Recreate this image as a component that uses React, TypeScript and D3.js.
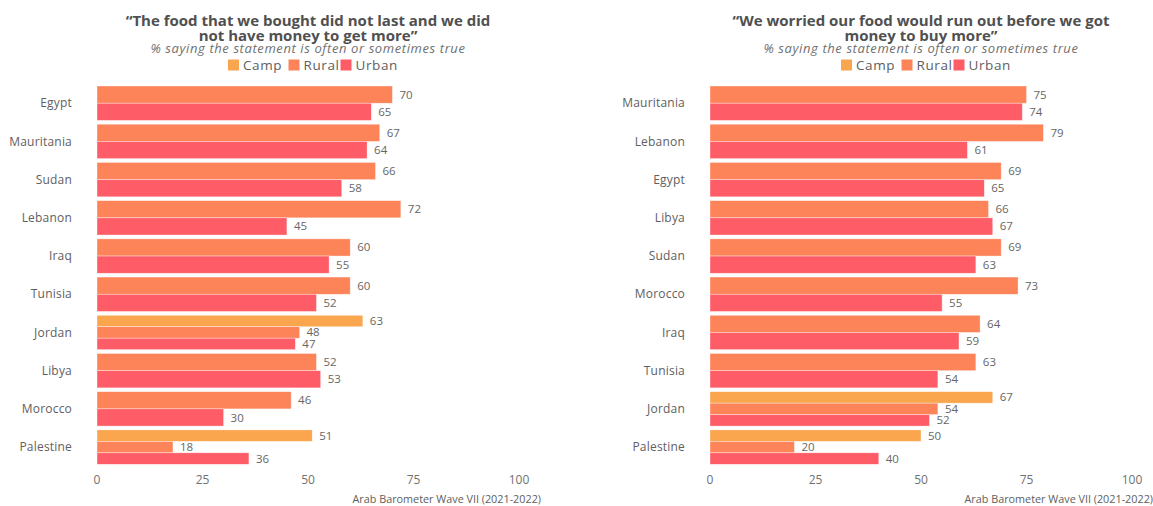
import React from "react";
import * as d3 from "d3";

const seriesKeys = ["Camp", "Rural", "Urban"];
const seriesColors = ["#FAA64F", "#FD8358", "#FE5C66"];

const leftCountries = ["Egypt", "Mauritania", "Sudan", "Lebanon", "Iraq", "Tunisia", "Jordan", "Libya", "Morocco", "Palestine"];
const leftCamp = [null, null, null, null, null, null, 63, null, null, 51];
const leftRural = [70, 67, 66, 72, 60, 60, 48, 52, 46, 18];
const leftUrban = [65, 64, 58, 45, 55, 52, 47, 53, 30, 36];

const rightCountries = ["Mauritania", "Lebanon", "Egypt", "Libya", "Sudan", "Morocco", "Iraq", "Tunisia", "Jordan", "Palestine"];
const rightCamp = [null, null, null, null, null, null, null, null, 67, 50];
const rightRural = [75, 79, 69, 66, 69, 73, 64, 63, 54, 20];
const rightUrban = [74, 61, 65, 67, 63, 55, 59, 54, 52, 40];

const xTicks = [0, 25, 50, 75, 100];

const leftTitle = ["\u201CThe food that we bought did not last and we did", "not have money to get more\u201D"];
const rightTitle = ["\u201CWe worried our food would run out before we got", "money to buy more\u201D"];
const subtitle = "% saying the statement is often or sometimes true";
const caption = "Arab Barometer Wave VII (2021-2022)";

const FONT = "'Open Sans', sans-serif";

type PanelProps = {
  x0: number;
  x1: number;
  countries: string[];
  camp: (number | null)[];
  rural: (number | null)[];
  urban: (number | null)[];
  title: string[];
  captionRight: number;
};

function Panel({ x0, x1, countries, camp, rural, urban, title, captionRight }: PanelProps) {
  const x = d3.scaleLinear().domain([0, 100]).range([x0, x1]);
  const y = d3.scaleBand<string>().domain(countries).range([84.1, 466.2]).paddingInner(0.1).paddingOuter(0.05);
  const cx = (x0 + x1) / 2;
  const series = [camp, rural, urban];

  const legendOffsets = [-80, -19.5, 32.5];

  return (
    <g>
      <text x={cx} y={26} textAnchor="middle" fontFamily={FONT} fontWeight={700} fontSize={15} fill="#505050">{title[0]}</text>
      <text x={cx} y={41} textAnchor="middle" fontFamily={FONT} fontWeight={700} fontSize={15} fill="#505050">{title[1]}</text>
      <text x={cx} y={53} textAnchor="middle" fontFamily={FONT} fontStyle="italic" fontSize={13} letterSpacing={0.6} fill="#707070">{subtitle}</text>
      {seriesKeys.map((k, i) => {
        const gx = cx + legendOffsets[i];
        return (
          <g key={k}>
            <rect x={gx} y={59.5} width={11} height={11} fill={seriesColors[i]} />
            <text x={gx + 15} y={69.5} fontFamily={FONT} fontSize={13.5} letterSpacing={0.6} fill="#606060">{k}</text>
          </g>
        );
      })}

      {countries.map((c, i) => {
        const present = series.map((s, si) => ({ v: s[i], si })).filter((d) => d.v !== null) as { v: number; si: number }[];
        const sub = d3.scaleBand<number>().domain(present.map((d) => d.si)).range([y(c)!, y(c)! + y.bandwidth()]);
        return (
          <g key={c}>
            <text x={x0 - 25} y={y(c)! + y.bandwidth() / 2} dy="0.35em" textAnchor="end" fontFamily={FONT} fontSize={12} letterSpacing={0.2} fill="#606060">{c}</text>
            {present.map((d) => (
              <g key={d.si}>
                <rect x={x(0)} y={sub(d.si)!} width={x(d.v) - x(0)} height={sub.bandwidth()} fill={seriesColors[d.si]} stroke="#fff" strokeOpacity={0.6} strokeWidth={0.6} />
                <text x={x(d.v) + 7} y={sub(d.si)! + sub.bandwidth() / 2} dy="0.35em" fontFamily={FONT} fontSize={11.5} fill="#666">{d.v}</text>
              </g>
            ))}
          </g>
        );
      })}

      {xTicks.map((t) => (
        <text key={t} x={x(t)} y={480} dy="0.35em" textAnchor="middle" fontFamily={FONT} fontSize={12} fill="#707070">{t}</text>
      ))}
      <text x={captionRight} y={503} textAnchor="end" fontFamily={FONT} fontSize={10.8} fill="#606060">{caption}</text>
    </g>
  );
}

export default function App() {
  return (
    <svg width={1153} height={506} style={{ position: "absolute", left: 0, top: 0, background: "#fff" }}>
      <rect width={1153} height={506} fill="#fff" />
      <Panel x0={97} x1={519} countries={leftCountries} camp={leftCamp} rural={leftRural} urban={leftUrban} title={leftTitle} captionRight={541} />
      <Panel x0={710} x1={1132} countries={rightCountries} camp={rightCamp} rural={rightRural} urban={rightUrban} title={rightTitle} captionRight={1153} />
    </svg>
  );
}
